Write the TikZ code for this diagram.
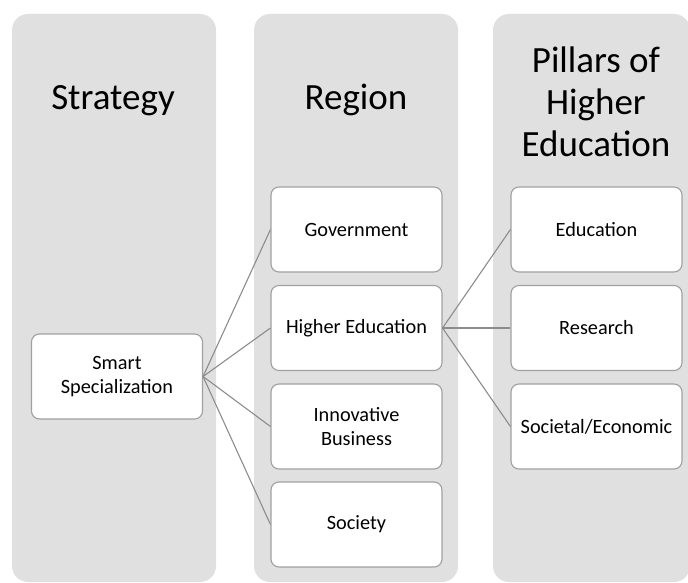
\documentclass[tikz,border=0pt]{standalone}
\usepackage{fontspec}
\setmainfont{Carlito}
\usetikzlibrary{positioning}

\definecolor{colgray}{RGB}{224,224,224}
\definecolor{boxgray}{RGB}{160,160,160}
\definecolor{linegray}{RGB}{140,140,140}

\begin{document}
\begin{tikzpicture}[x=1pt,y=1pt,yscale=-1,xscale=1,
  column/.style={fill=colgray, rounded corners=16pt},
  title/.style={font=\fontsize{37}{42}\selectfont, align=center, inner sep=0pt},
  item/.style={draw=boxgray, fill=white, rounded corners=8pt, line width=1.1pt,
    minimum width=171pt, minimum height=85pt, inner sep=0pt, align=center,
    font=\fontsize{20.3}{24}\selectfont},
  link/.style={draw=linegray, line width=1.1pt}]
\useasboundingbox (0,0) rectangle (688,583);
\clip (0,0) rectangle (688,583);

%Shape: Columns
\path[column] (12,14) rectangle (216,582);
\path[column] (254,14) rectangle (458,582);
\path[column] (493,14) rectangle (690,582);

% Text Node
\node[title, anchor=base] (strat) at (113,110) {Strategy};
% Text Node
\node[title, anchor=base] (reg) at (356,110) {Region};
% Text Node
\node[title] (pill) at (596,102) {Pillars of\\Higher\\Education};

%Boxes
\node[item] (smart) at (117,376.5) {Smart\\Specialization};
\node[item] (gov) at (356.5,229.5) {Government};
\node[item] (hied) at (356.5,328) {Higher Education};
\node[item] (innov) at (356.5,426.5) {Innovative\\Business};
\node[item] (soc) at (356.5,524.5) {Society};
\node[item] (edu) at (596.5,229.5) {Education};
\node[item] (res) at (596.5,328) {Research};
\node[item] (econ) at (596.5,426.5) {Societal/Economic};

%Straight Lines
\foreach \n in {gov,hied,innov,soc}
  \draw[link] (smart.east) -- (\n.west);
\foreach \n in {edu,res,econ}
  \draw[link] (hied.east) -- (\n.west);

\end{tikzpicture}
\end{document}
